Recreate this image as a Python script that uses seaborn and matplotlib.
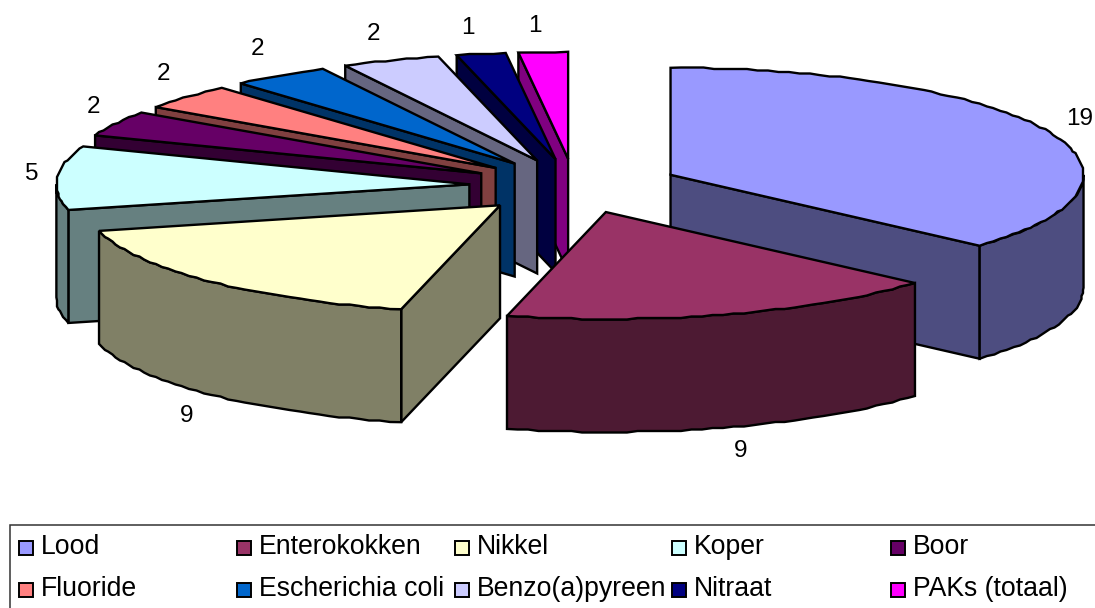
import numpy as np
import matplotlib
matplotlib.use("Agg")
import matplotlib.pyplot as plt
from matplotlib.patches import Rectangle
import seaborn as sns

# Data
categories = ["Lood", "Enterokokken", "Nikkel", "Koper", "Boor",
              "Fluoride", "Escherichia coli", "Benzo(a)pyreen", "Nitraat", "PAKs (totaal)"]
values = [19, 9, 9, 5, 2, 2, 2, 2, 1, 1]
hex_colors = ["#9999FF", "#993366", "#FFFFCC", "#CCFFFF", "#660066",
              "#FF8080", "#0066CC", "#CCCCFF", "#000080", "#FF00FF"]

# Layout of the tilted pie, in pixels
CX, CY = 574.5, 186
RX, RY = 413, 107
EXPLODE = 0.255
DEPTH = 113
GRID = 1.5
label_xy = [(1080, 118), (741, 450), (187, 415), (32, 173), (94, 106),
            (163, 73), (257, 48), (373, 33), (468, 27), (535, 25)]
legend_cols = [19, 237, 455, 672, 891]
legend_rows = [541, 583]

sns.set_theme(style="white")
plt.rcParams["font.family"] = ["Liberation Sans", "DejaVu Sans"]
palette = sns.color_palette(hex_colors)

fig = plt.figure(figsize=(10.95, 6.08), dpi=100)
ax = fig.add_axes([0, 0, 1, 1])
ax.set_xlim(0, 1095)
ax.set_ylim(608, 0)
ax.axis("off")

EDGE = dict(edgecolor="black", linewidth=1.7, joinstyle="miter")


def rim(theta, cx, cy):
    """Points on the ellipse; theta runs clockwise from twelve o'clock, in degrees."""
    t = np.radians(theta)
    x = cx + RX * np.sin(t)
    y = cy - RY * np.cos(t)
    return np.column_stack([x, y])


def snapped_arc(a, b, cx, cy):
    n = max(2, int(abs(b - a) / 1.5) + 1)
    pts = rim(np.linspace(a, b, n), cx, cy)
    inner = np.round(pts[1:-1] / GRID) * GRID
    return np.vstack([pts[:1], inner, pts[-1:]])


def dark(color):
    return tuple(0.5 * c for c in color)


shares = np.array(values, dtype=float) / sum(values) * 360
stops = np.concatenate([[0], np.cumsum(shares)])
wedges = []
for i in range(len(values)):
    a, b = stops[i], stops[i + 1]
    mid = (a + b) / 2
    cx, cy = rim(mid, CX, CY)[0]
    cx = CX + EXPLODE * (cx - CX)
    cy = CY + EXPLODE * (cy - CY)
    wedges.append((i, a, b, cx, cy))

# Painted from the back of the pie to the front
paint_order = [9, 8, 7, 6, 5, 4, 3, 2, 0, 1]
down = np.array([0, DEPTH])
for i in paint_order:
    _, a, b, cx, cy = wedges[i]
    top = palette[i]
    side = dark(top)
    apex = np.array([cx, cy])

    # Cut faces that turn towards the viewer
    for theta, visible in ((a, np.sin(np.radians(a)) < -1e-6),
                           (b, np.sin(np.radians(b)) > 1e-6)):
        if visible:
            p = rim(np.array([theta]), cx, cy)[0]
            ax.fill(*np.array([apex, p, p + down, apex + down]).T,
                    facecolor=side, zorder=2, **EDGE)

    # Outer wall, front half of the rim only
    lo, hi = max(a, 90), min(b, 270)
    if hi > lo:
        arc = snapped_arc(lo, hi, cx, cy)
        ax.fill(*np.vstack([arc, (arc + down)[::-1]]).T,
                facecolor=side, zorder=2, **EDGE)

    # Top face
    arc = snapped_arc(a, b, cx, cy)
    ax.fill(*np.vstack([apex, arc]).T, facecolor=top, zorder=2, **EDGE)

for v, (x, y) in zip(values, label_xy):
    ax.text(x, y + 1, str(v), fontsize=17.5, color="black", ha="center", va="center", zorder=3)

# Legend frame runs off the right and bottom of the canvas
ax.plot([9.5, 9.5, 1095], [608, 524.5, 524.5], color="#333333", lw=1.1, zorder=3,
        solid_joinstyle="miter")
for i, name in enumerate(categories):
    row, col = divmod(i, 5)
    x, y = legend_cols[col], legend_rows[row]
    ax.add_patch(Rectangle((x, y), 14, 14, facecolor=palette[i],
                           edgecolor="black", linewidth=1.4, zorder=3))
    ax.text(x + 22, y + 13.5, name, fontsize=19.2, color="black", ha="left",
            va="baseline", zorder=3)

fig.savefig("out.png", dpi=100, facecolor="white")
